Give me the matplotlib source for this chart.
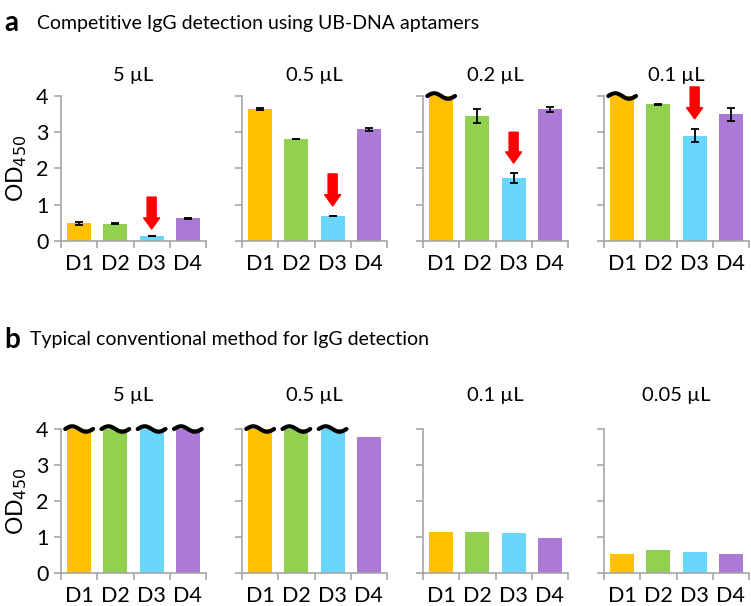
import numpy as np
import matplotlib
matplotlib.use("Agg")
import matplotlib.pyplot as plt

plt.rcParams['font.family'] = ['Lato', 'DejaVu Sans']

cats = ["D1", "D2", "D3", "D4"]
colors = ["#FFC000", "#92D050", "#69D7FB", "#AB79D6"]

# panel a: competitive detection
a_titles = ["5 µL", "0.5 µL", "0.2 µL", "0.1 µL"]
a_vals = [[0.49, 0.48, 0.14, 0.63],
          [3.64, 2.81, 0.69, 3.08],
          [4.0, 3.45, 1.74, 3.63],
          [4.0, 3.77, 2.91, 3.49]]
a_errs = [[0.04, 0.01, 0.01, 0.01],
          [0.03, 0.01, 0.01, 0.05],
          [0.0, 0.20, 0.13, 0.08],
          [0.0, 0.02, 0.19, 0.19]]
a_arrows = [(1.21, 0.33), (1.85, 0.97), (3.0, 2.15), (4.25, 3.37)]  # (start, tip) over D3

# panel b: conventional method
b_titles = ["5 µL", "0.5 µL", "0.1 µL", "0.05 µL"]
b_vals = [[4.0, 4.0, 4.0, 4.0],
          [4.0, 4.0, 4.0, 3.77],
          [1.15, 1.14, 1.10, 0.96],
          [0.53, 0.63, 0.57, 0.53]]

W, H = 751, 606
fig = plt.figure(figsize=(W / 100, H / 100), dpi=100)

lefts = [61, 242, 423, 604]
axw = 145
gray = "#A6A6A6"
bw = 0.66


def style_axis(ax, first):
    ax.set_xlim(-0.5, 3.5)
    ax.set_ylim(0, 4)
    for s in ["top", "right"]:
        ax.spines[s].set_visible(False)
    for s in ["left", "bottom"]:
        ax.spines[s].set_color(gray)
        ax.spines[s].set_linewidth(1.2)
    ax.set_yticks([0, 1, 2, 3, 4])
    ax.set_xticks([-0.5, 0.5, 1.5, 2.5, 3.5])
    ax.set_xticklabels([])
    ax.set_xticks(range(4), minor=True)
    ax.set_xticklabels(cats, minor=True, fontsize=15.5)
    ax.tick_params(axis="x", which="major", length=5, color=gray, width=1.2)
    ax.tick_params(axis="x", which="minor", length=0, pad=9)
    ax.tick_params(axis="y", length=5, color=gray, width=1.2, labelsize=15.5, pad=4)
    if not first:
        ax.set_yticklabels([])
    else:
        ax.set_ylabel("OD$_{450}$", fontsize=16.5, labelpad=5)


def tilde(ax, x):
    t = np.linspace(-1, 1, 40)
    xs = x + t * bw * 0.58
    ys = 4 + 0.075 * np.sin(-t * np.pi)
    ax.plot(xs, ys, color="black", lw=3, clip_on=False, solid_capstyle="round", zorder=5)


def draw_row(vals, titles, top_px, bottom_px, title_px, errs=None, arrows=None):
    for i in range(4):
        ax = fig.add_axes([lefts[i] / W, 1 - bottom_px / H, axw / W, (bottom_px - top_px) / H])
        x = np.arange(4)
        ax.bar(x, vals[i], width=bw, color=colors, zorder=2)
        if errs is not None:
            e = np.array(errs[i])
            m = e > 0
            ax.errorbar(x[m], np.array(vals[i])[m], yerr=e[m], fmt="none", ecolor="black",
                        elinewidth=1.3, capsize=3.2, capthick=1.3, zorder=3)
        for j, v in enumerate(vals[i]):
            if v >= 4:
                tilde(ax, j)
        if arrows is not None:
            y0, y1 = arrows[i]
            ax.annotate("", xy=(2, y1), xytext=(2, y0), annotation_clip=False,
                        arrowprops=dict(arrowstyle="simple,head_width=1.15,head_length=0.8,tail_width=0.65",
                                        color="#FF0000", mutation_scale=10, shrinkA=0, shrinkB=0))
        style_axis(ax, i == 0)
        fig.text((lefts[i] + axw / 2) / W, 1 - title_px / H, titles[i], ha="center", va="center", fontsize=14.5)


draw_row(a_vals, a_titles, 96, 241, 76, errs=a_errs, arrows=a_arrows)
draw_row(b_vals, b_titles, 429, 573, 395)

fig.text(4 / W, 1 - 23 / H, "a", fontsize=20, fontweight="bold", va="center", ha="left")
fig.text(37 / W, 1 - 23 / H, "Competitive IgG detection using UB-DNA aptamers", fontsize=14, va="center", ha="left")
fig.text(4 / W, 1 - 340 / H, "b", fontsize=20, fontweight="bold", va="center", ha="left")
fig.text(30 / W, 1 - 340 / H, "Typical conventional method for IgG detection", fontsize=14, va="center", ha="left")

fig.savefig("out.png", dpi=100)
